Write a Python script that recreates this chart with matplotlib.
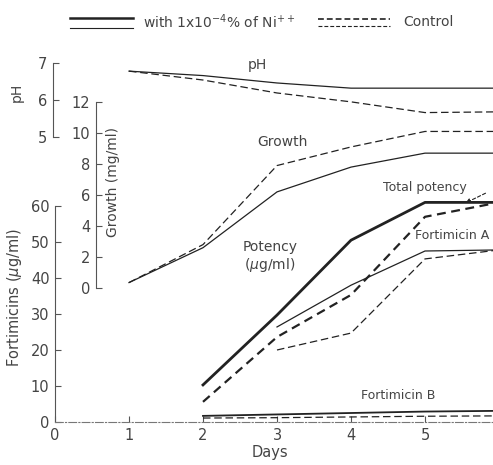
import matplotlib.pyplot as plt
from matplotlib.lines import Line2D

days = [1, 2, 3, 4, 5, 6]

# pH
ph_ni = [6.78, 6.66, 6.46, 6.32, 6.32, 6.32]
ph_ctrl = [6.78, 6.54, 6.19, 5.95, 5.66, 5.68]

# growth (mg/ml)
growth_ni = [0.35, 2.6, 6.2, 7.8, 8.7, 8.7]
growth_ctrl = [0.35, 2.8, 7.9, 9.1, 10.1, 10.1]

# fortimicins (ug/ml)
pot_days = [2, 3, 4, 5, 6]
total_ni = [10.3, 29.7, 50.5, 61, 61]
total_ctrl = [5.6, 23.6, 35.3, 57, 61]
a_days = [3, 4, 5, 6]
a_ni = [26.4, 38.0, 47.5, 47.8]
a_ctrl = [20.0, 24.7, 45.3, 47.8]
b_ni = [1.7, 2.1, 2.5, 2.9, 3.1]
b_ctrl = [1.1, 1.2, 1.4, 1.6, 1.7]

W, H = 493, 465
fig = plt.figure(figsize=(W / 100, H / 100), dpi=100)

ink = '#222222'
txt = '#444444'
plt.rcParams['font.family'] = ['DejaVu Sans']

# all three axes share the same box, in pixels
x0, ybot = 55, 422
pos = [x0 / W, (H - ybot) / H, (W - x0) / W, ybot / H]
px_day = 74.0
xmax = (W - x0) / px_day

def fy(y):
    return 1 - y / H

def fx(x):
    return x / W

ax = fig.add_axes(pos)
ag = fig.add_axes(pos)
ap = fig.add_axes(pos)
for a in (ax, ag, ap):
    a.patch.set_visible(False)
    a.set_xlim(0, xmax)
    for s in ('top', 'right'):
        a.spines[s].set_visible(False)

# main fortimicins axis: 3.6 px per unit
ax.set_ylim(0, ybot / 3.6)
ax.spines['left'].set_bounds(0, 60)
ax.spines['left'].set_color('#555555')
ax.spines['bottom'].set_linestyle((0, (7, 2, 1, 2)))
ax.spines['bottom'].set_color('#777777')
ax.spines['bottom'].set_linewidth(0.8)
ax.set_yticks([0, 10, 20, 30, 40, 50, 60])
ax.set_xticks([0, 1, 2, 3, 4, 5])
ax.tick_params(direction='in', length=4, colors='#555555', labelcolor=txt,
               labelsize=10.5, pad=4)

# growth axis: 15.5 px per unit, zero at y=288
gp = 15.5
g0 = ybot - 288
ag.set_ylim(-g0 / gp, (ybot - g0) / gp)
ag.spines['left'].set_position(('axes', (96 - x0) / (W - x0)))
ag.spines['left'].set_bounds(0, 12)
ag.spines['left'].set_color('#555555')
ag.spines['bottom'].set_visible(False)
ag.set_yticks([0, 2, 4, 6, 8, 10, 12])
ag.set_xticks([])
ag.tick_params(direction='in', length=4, colors='#555555', labelcolor=txt,
               labelsize=10.5, pad=4)

# pH axis: 37 px per unit, 5 at y=137
pp = 37.0
p5 = ybot - 137
ap.set_ylim(5 - p5 / pp, 5 + (ybot - p5) / pp)
ap.spines['left'].set_position(('axes', (53 - x0) / (W - x0)))
ap.spines['left'].set_bounds(5, 7)
ap.spines['left'].set_color('#555555')
ap.spines['bottom'].set_visible(False)
ap.set_yticks([5, 6, 7])
ap.set_xticks([])
ap.tick_params(direction='in', length=4, colors='#555555', labelcolor=txt,
               labelsize=10.5, pad=4)

dash = (0, (6, 3))
thin = 0.9
thick = 2.0

ap.plot(days, ph_ni, color=ink, lw=thin)
ap.plot(days, ph_ctrl, color=ink, lw=thin, ls=dash)

ag.plot(days, growth_ni, color=ink, lw=thin)
ag.plot(days, growth_ctrl, color=ink, lw=thin, ls=dash)

ax.plot(pot_days, total_ni, color=ink, lw=thick)
ax.plot(pot_days, total_ctrl, color=ink, lw=1.6, ls=(0, (4, 2.5)))
ax.plot(a_days, a_ni, color=ink, lw=thin)
ax.plot(a_days, a_ctrl, color=ink, lw=thin, ls=dash)
ax.plot(pot_days, b_ni, color=ink, lw=1.3)
ax.plot(pot_days, b_ctrl, color=ink, lw=thin, ls=dash)

for a in (ax, ag, ap):
    for l in a.lines:
        l.set_clip_on(False)

# labels in figure pixels
fs = 10
fig.text(fx(17), fy(92), 'pH', rotation=90, ha='center', va='center',
         fontsize=fs, color=txt)
fig.text(fx(113), fy(182), 'Growth (mg/ml)', rotation=90, ha='center',
         va='center', fontsize=fs, color=txt)
fig.text(fx(15), fy(297), 'Fortimicins ($\\mu$g/ml)', rotation=90,
         ha='center', va='center', fontsize=10.5, color=txt)
fig.text(fx(270), fy(452), 'Days', ha='center', va='center', fontsize=10.5,
         color=txt)
fig.text(fx(257), fy(65), 'pH', ha='center', va='center', fontsize=fs, color=txt)
fig.text(fx(282), fy(142), 'Growth', ha='center', va='center', fontsize=fs,
         color=txt)
fig.text(fx(270), fy(257), 'Potency\n($\\mu$g/ml)', ha='center', va='center',
         fontsize=fs, color=txt, linespacing=1.1)
fig.text(fx(383), fy(188), 'Total potency', ha='left', va='center',
         fontsize=9, color=txt)
fig.text(fx(415), fy(235), 'Fortimicin A', ha='left', va='center',
         fontsize=9, color=txt)
fig.text(fx(398), fy(395), 'Fortimicin B', ha='center', va='center',
         fontsize=9, color=txt)
ax.annotate('', xy=((463 - x0) / px_day, 60.5),
            xytext=((488 - x0) / px_day, (ybot - 192) / 3.6),
            arrowprops=dict(arrowstyle='-|>', color=ink, lw=0.8,
                            ls=(0, (3, 2)), mutation_scale=7))

# legend drawn at the top
fig.add_artist(Line2D([fx(70), fx(133)], [fy(18), fy(18)], color=ink, lw=1.8))
fig.add_artist(Line2D([fx(70), fx(133)], [fy(28), fy(28)], color=ink, lw=0.8))
fig.text(fx(143), fy(22), 'with 1x10$^{-4}$% of Ni$^{++}$', ha='left',
         va='center', fontsize=10, color=txt)
fig.add_artist(Line2D([fx(318), fx(390)], [fy(19), fy(19)], color=ink, lw=1.2,
                      ls=(0, (3.5, 1.8))))
fig.add_artist(Line2D([fx(318), fx(390)], [fy(26), fy(26)], color=ink, lw=0.8,
                      ls=(0, (3.5, 1.8))))
fig.text(fx(403), fy(22), 'Control', ha='left', va='center', fontsize=10,
         color=txt)

fig.savefig('out.png', dpi=100)
